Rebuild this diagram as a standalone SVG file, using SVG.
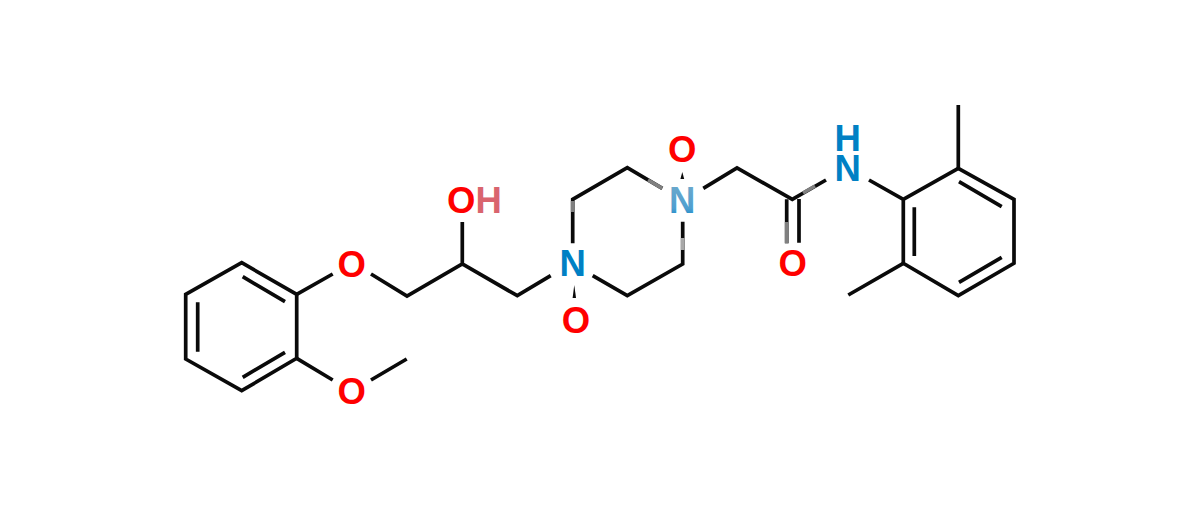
<svg xmlns="http://www.w3.org/2000/svg" width="1200" height="510" viewBox="0 0 1200 510">
<style>
.b{stroke:#0a0a0a;stroke-width:3.7;fill:none;stroke-linecap:butt;stroke-linejoin:miter}
.f{stroke:#808080;stroke-width:3.7;fill:none}
.l{stroke:#a8a8a8;stroke-width:3.7;fill:none}
text{font-family:"Liberation Sans",Arial,sans-serif;font-weight:700;font-size:36.5px;text-anchor:middle}
.o{fill:#ff0000}
.n{fill:#0080c4}
</style>
<defs>
<linearGradient id="nf" x1="0" y1="0" x2="0" y2="1">
<stop offset="0.15" stop-color="#6aa8cc"/>
<stop offset="0.7" stop-color="#4f9fd0"/>
<stop offset="1" stop-color="#0080c4"/>
</linearGradient>
</defs>
<rect width="1200" height="510" fill="#ffffff"/>
<g id="connectors">
<path class="b" d="M241.7 262.7L296.7 294.3V358.3L241.7 390.7L185.7 359V294.3Z"/>
<path class="b" d="M242.7 276.7L285 301.7M197.7 302.3V351.7M242.7 377.3L285 352.3"/>
<path class="b" d="M296.7 294.3L332.7 274M371 274L407 296L462.3 264L517.3 295.7L550.7 275.7M462.3 264V222"/>
<path class="b" d="M296.7 358.3L332.7 380M371 380L406.7 359"/>
<path class="b" d="M572.7 243.3V199.3L627.3 167.7L662.3 188.3M682.7 221.7V264L627.3 295.7L592.7 275.7"/>
<path class="f" d="M648 180L662.3 188.3M572.7 201V212"/>
<path class="l" d="M682.7 238V250"/>
<path class="b" d="M703.3 188.3L737 168L792.3 199.3L826 180"/>
<path class="f" d="M803 193L815 186"/>
<path class="b" d="M786.7 199.3V243.3M799 199V242.7"/>
<path class="f" d="M786.7 222V243.3"/>
<path class="b" d="M869 180L903.3 199.3L958.3 168.3L1014 199.3V263.3L958.3 295.7L903.3 263.3V199.3"/>
<path class="b" d="M958.3 168.3V105M903.3 263.3L848.3 295"/>
<path class="b" d="M959 181.7L1001.7 206.7M914.3 207.3V256M959 282.3L1001.7 257.3"/>
<polygon points="574.3,285 572.6,298 576,298" fill="#0a0a0a"/>
<polygon points="682.3,172 680.4,179 684.2,179" fill="#0a0a0a"/>
</g>
<g id="atom-o1"><text class="o" x="351.7" y="276.5">O</text></g>
<g id="atom-o2"><text class="o" x="351.7" y="403.5">O</text></g>
<g id="atom-oh"><text x="474.5" y="213"><tspan class="o">O</tspan><tspan fill="#d9646e">H</tspan></text></g>
<g id="atom-n1"><text class="n" x="572.7" y="276">N</text></g>
<g id="atom-o3"><text class="o" x="576" y="332.5">O</text></g>
<g id="atom-n2"><text fill="url(#nf)" x="682.3" y="212.5">N</text></g>
<g id="atom-o4"><text class="o" x="682.3" y="162">O</text></g>
<g id="atom-o5"><text class="o" x="792.7" y="276">O</text></g>
<g id="atom-nh"><text class="n"><tspan x="847.7" y="150.5">H</tspan><tspan x="847.7" y="180.5">N</tspan></text></g>
</svg>
